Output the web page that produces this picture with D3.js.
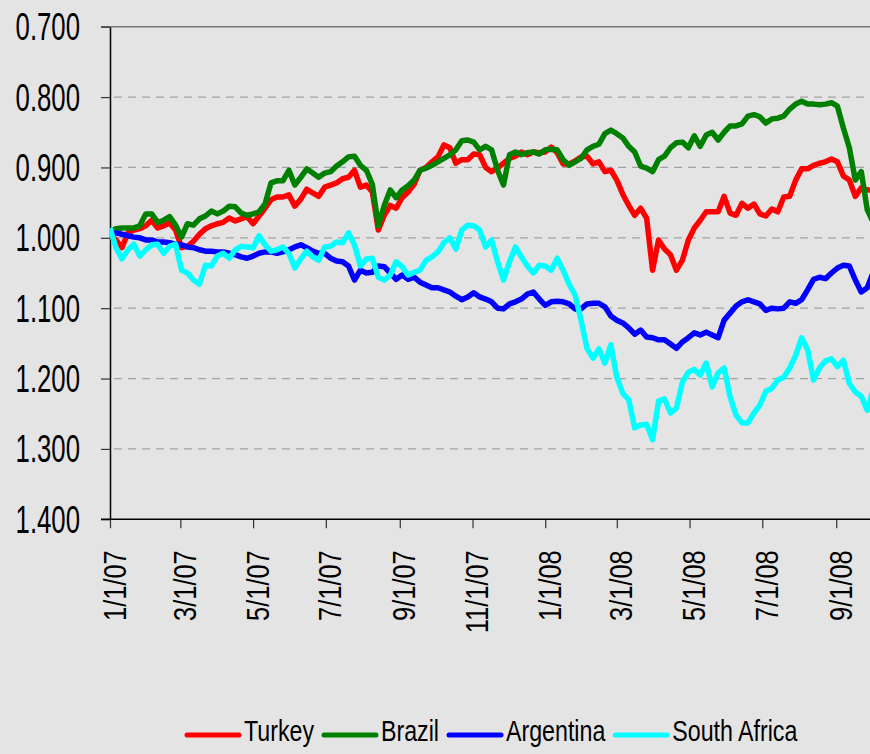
<!DOCTYPE html>
<html>
<head>
<meta charset="utf-8">
<script src="https://cdn.jsdelivr.net/npm/d3@7/dist/d3.min.js"></script>
<style>
  body { margin: 0; background: #e4e4e4; }
  svg { display: block; }
  text { font-family: "Liberation Sans", Arial, sans-serif; fill: #000; }
</style>
</head>
<body>
<div id="chart"></div>
<script>
// one reading every 5 days starting at startDate
var startDate = "2007-01-01";
var stepDays = 5;

var turkey = [
  0.996,1.003,1.014,0.993,0.989,0.987,0.983,0.975,0.986,0.983,
  0.979,0.989,1.014,1.012,1.005,0.995,0.987,0.983,0.980,0.978,
  0.972,0.976,0.973,0.970,0.980,0.969,0.958,0.946,0.942,0.942,
  0.939,0.955,0.945,0.931,0.936,0.941,0.928,0.925,0.922,0.916,
  0.914,0.904,0.928,0.925,0.935,0.989,0.968,0.954,0.958,0.943,
  0.935,0.924,0.904,0.900,0.892,0.885,0.868,0.872,0.894,0.889,
  0.889,0.881,0.882,0.900,0.906,0.901,0.894,0.887,0.884,0.878,
  0.882,0.878,0.879,0.878,0.871,0.879,0.895,0.895,0.891,0.885,
  0.884,0.895,0.892,0.906,0.904,0.918,0.938,0.954,0.968,0.958,
  0.972,1.046,1.003,1.016,1.024,1.046,1.032,1.003,0.986,0.975,
  0.963,0.963,0.963,0.941,0.965,0.968,0.951,0.958,0.952,0.966,
  0.969,0.959,0.963,0.942,0.941,0.918,0.902,0.902,0.897,0.894,
  0.892,0.888,0.892,0.912,0.918,0.941,0.929,0.932,0.932
];
var brazil = [
  0.992,0.987,0.986,0.986,0.986,0.983,0.966,0.966,0.978,0.975,
  0.970,0.982,0.999,0.980,0.982,0.973,0.969,0.962,0.966,0.962,
  0.955,0.956,0.965,0.968,0.966,0.963,0.952,0.922,0.919,0.919,
  0.904,0.925,0.914,0.902,0.908,0.914,0.908,0.906,0.898,0.892,
  0.885,0.884,0.897,0.904,0.924,0.983,0.954,0.932,0.943,0.932,
  0.926,0.918,0.904,0.901,0.897,0.892,0.887,0.882,0.875,0.862,
  0.861,0.864,0.875,0.870,0.875,0.904,0.925,0.882,0.878,0.882,
  0.879,0.878,0.881,0.875,0.874,0.875,0.889,0.897,0.892,0.887,
  0.875,0.870,0.867,0.852,0.847,0.852,0.858,0.870,0.878,0.898,
  0.901,0.906,0.889,0.884,0.872,0.865,0.864,0.872,0.855,0.870,
  0.854,0.850,0.861,0.850,0.841,0.841,0.838,0.827,0.825,0.828,
  0.837,0.831,0.830,0.827,0.817,0.810,0.806,0.810,0.810,0.811,
  0.810,0.808,0.813,0.844,0.872,0.918,0.906,0.960,0.978
];
var argentina = [
  0.996,0.993,0.995,0.997,0.999,1.000,1.003,1.003,1.006,1.006,
  1.007,1.009,1.010,1.013,1.014,1.017,1.019,1.019,1.020,1.020,
  1.022,1.024,1.027,1.029,1.026,1.022,1.020,1.020,1.022,1.020,
  1.017,1.013,1.010,1.014,1.019,1.022,1.022,1.029,1.033,1.034,
  1.040,1.060,1.046,1.050,1.049,1.040,1.041,1.050,1.059,1.053,
  1.059,1.056,1.063,1.067,1.071,1.071,1.074,1.077,1.083,1.088,
  1.084,1.078,1.084,1.087,1.091,1.100,1.101,1.094,1.091,1.087,
  1.080,1.077,1.087,1.096,1.091,1.090,1.091,1.094,1.101,1.101,
  1.094,1.093,1.093,1.098,1.111,1.117,1.121,1.128,1.137,1.131,
  1.141,1.142,1.145,1.145,1.151,1.157,1.148,1.142,1.135,1.138,
  1.134,1.138,1.142,1.117,1.107,1.097,1.091,1.088,1.091,1.094,
  1.103,1.100,1.101,1.100,1.091,1.093,1.088,1.074,1.059,1.056,
  1.058,1.050,1.043,1.039,1.040,1.060,1.077,1.071,1.049
];
var southAfrica = [
  0.986,1.014,1.030,1.017,1.009,1.026,1.017,1.010,1.009,1.022,
  1.012,1.009,1.046,1.050,1.060,1.066,1.039,1.040,1.026,1.022,
  1.029,1.017,1.012,1.013,1.014,0.997,1.010,1.019,1.017,1.013,
  1.022,1.043,1.030,1.019,1.027,1.032,1.013,1.012,1.006,1.007,
  0.993,1.010,1.040,1.030,1.029,1.056,1.060,1.053,1.034,1.041,
  1.053,1.049,1.046,1.032,1.027,1.020,1.007,1.000,1.016,0.989,
  0.982,0.983,0.989,1.013,1.003,1.034,1.060,1.034,1.013,1.027,
  1.040,1.050,1.039,1.040,1.046,1.029,1.046,1.066,1.081,1.117,
  1.157,1.171,1.158,1.178,1.152,1.198,1.221,1.230,1.270,1.266,
  1.265,1.287,1.232,1.229,1.249,1.242,1.205,1.191,1.187,1.195,
  1.178,1.212,1.192,1.185,1.226,1.252,1.263,1.263,1.249,1.238,
  1.218,1.214,1.202,1.198,1.185,1.167,1.142,1.159,1.202,1.185,
  1.175,1.172,1.183,1.174,1.207,1.219,1.225,1.245,1.216
];

var yTicks = [0.7, 0.8, 0.9, 1.0, 1.1, 1.2, 1.3, 1.4];
var xStart = "2007-01-01", xEnd = "2008-10-01";
var seriesNames = ["Turkey", "Brazil", "Argentina", "South Africa"];
var seriesColors = ["#ff0000", "#008000", "#0000ff", "#00ffff"];
var seriesValues = [turkey, brazil, argentina, southAfrica];

var W = 870, H = 754;
var plotLeft = 110, plotRight = 872, plotTop = 26.7, plotBottom = 519.3;

var parse = d3.timeParse("%Y-%m-%d");
var t0 = parse(startDate);

var x = d3.scaleTime().domain([parse(xStart), parse(xEnd)]).range([plotLeft, plotRight]);
var y = d3.scaleLinear().domain([0.7, 1.4]).range([plotTop, plotBottom]);

var svg = d3.select("#chart").append("svg")
    .attr("width", W)
    .attr("height", H);

svg.append("rect").attr("width", W).attr("height", H).attr("fill", "#e4e4e4");

// gridlines
svg.append("g").selectAll("line")
    .data(yTicks.filter(function (d) { return d > 0.7 && d < 1.4; }))
  .enter().append("line")
    .attr("x1", plotLeft + 4).attr("x2", W)
    .attr("y1", function (d) { return y(d); })
    .attr("y2", function (d) { return y(d); })
    .attr("stroke", "#a2a2a2")
    .attr("stroke-width", 1.2)
    .attr("stroke-dasharray", "8,6");

svg.append("line")
    .attr("x1", plotLeft - 9).attr("x2", W)
    .attr("y1", y(0.7)).attr("y2", y(0.7))
    .attr("stroke", "#7a7a7a")
    .attr("stroke-width", 1.5);

// y axis
var yAxis = svg.append("g")
    .attr("transform", "translate(" + plotLeft + ",0)")
    .call(d3.axisLeft(y).tickValues(yTicks).tickSize(9).tickSizeOuter(0).tickFormat(d3.format(".3f")));
yAxis.select(".domain").attr("stroke", "#000").attr("stroke-width", 1.5);
yAxis.selectAll(".tick line").attr("stroke", "#333").attr("stroke-width", 1.2);
yAxis.selectAll(".tick text").remove();
yAxis.selectAll(".tick").append("text")
    .attr("text-anchor", "end")
    .attr("transform", "translate(-30,13) scale(0.66,1)")
    .attr("font-size", 39)
    .text(function (d) { return d3.format(".3f")(d); });

// x axis
var xAxis = svg.append("g")
    .attr("transform", "translate(0," + plotBottom + ")")
    .call(d3.axisBottom(x).ticks(d3.timeMonth.every(2)).tickSize(9).tickSizeOuter(0)
      .tickFormat(d3.timeFormat("%-m/%-d/%y")));
xAxis.select(".domain").remove();
xAxis.append("line").attr("x1", plotLeft - 9).attr("x2", W).attr("stroke", "#000").attr("stroke-width", 1.5);
xAxis.selectAll(".tick line").attr("stroke", "#333").attr("stroke-width", 1.2);
xAxis.selectAll(".tick text").remove();
xAxis.selectAll(".tick").append("text")
    .attr("text-anchor", "end")
    .attr("transform", "translate(15,31) rotate(-90) scale(0.82,1)")
    .attr("font-size", 31)
    .text(function (d) { return d3.timeFormat("%-m/%-d/%y")(d); });

// series
var line = d3.line()
    .x(function (d, i) { return x(d3.timeDay.offset(t0, i * stepDays)); })
    .y(function (d) { return y(d); });

svg.append("clipPath").attr("id", "plot")
  .append("rect").attr("x", plotLeft).attr("y", 0).attr("width", W - plotLeft).attr("height", plotBottom);

svg.append("g").attr("clip-path", "url(#plot)")
  .selectAll("path")
    .data(seriesValues)
  .enter().append("path")
    .attr("d", line)
    .attr("fill", "none")
    .attr("stroke", function (d, i) { return seriesColors[i]; })
    .attr("stroke-width", 5.5)
    .attr("stroke-linejoin", "round");

// legend
var lx = 187, ly = 735;
seriesNames.forEach(function (name, i) {
  svg.append("line")
      .attr("x1", lx).attr("x2", lx + 52)
      .attr("y1", ly).attr("y2", ly)
      .attr("stroke", seriesColors[i])
      .attr("stroke-width", 5)
      .attr("stroke-linecap", "round");
  var t = svg.append("text")
      .attr("transform", "translate(" + (lx + 57) + "," + (ly + 6) + ") scale(0.8,1)")
      .attr("font-size", 29)
      .text(name);
  lx = lx + 57 + t.node().getComputedTextLength() * 0.8 + 10;
});
</script>
</body>
</html>
